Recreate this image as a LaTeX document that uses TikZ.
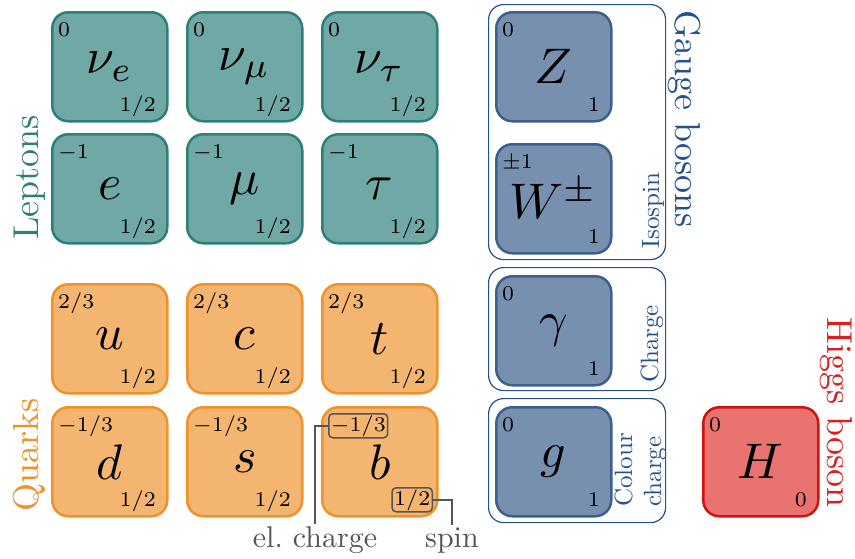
\documentclass[tikz,border=0pt]{standalone}
\usepackage{graphicx}
\definecolor{lepF}{HTML}{6FA8A5}
\definecolor{lepD}{HTML}{2E7F7A}
\definecolor{quaF}{HTML}{F3B56F}
\definecolor{quaD}{HTML}{EF922B}
\definecolor{gauF}{HTML}{7890B0}
\definecolor{gauD}{HTML}{3E5F8E}
\definecolor{gauT}{HTML}{24508C}
\definecolor{higF}{HTML}{E8736F}
\definecolor{higD}{HTML}{D01212}
\definecolor{higT}{HTML}{D82020}
\definecolor{annG}{HTML}{555555}
\tikzset{
  pbase/.style={rounded corners=16pt, line width=2.5pt, minimum width=115pt,
    minimum height=109pt, anchor=north west, inner sep=0pt},
  lep/.style={pbase, fill=lepF, draw=lepD},
  qua/.style={pbase, fill=quaF, draw=quaD},
  gau/.style={pbase, fill=gauF, draw=gauD},
  hig/.style={pbase, fill=higF, draw=higD},
  sym/.style={inner sep=0pt},
  smalltxt/.style={inner sep=0pt},
  gframe/.style={draw=gauT, line width=1.2pt, rounded corners=15pt, anchor=north west, inner sep=0pt},
  grp/.style={inner sep=0pt, anchor=base west},
  subl/.style={inner sep=0pt, text=gauT, anchor=base west, rotate=90},
  ann/.style={draw=annG, line width=1.5pt, rounded corners=4pt, inner xsep=2pt, inner ysep=1.5pt},
  annline/.style={draw=annG, line width=1.5pt},
  anntxt/.style={text=annG, inner sep=2pt}
}
\newcommand\symb[1]{\scalebox{5}{$#1$}}
\newcommand\smt[1]{\scalebox{3}{\scriptsize$#1$}}
\newcommand\grptxt[1]{\scalebox{3.6}{#1}}
\newcommand\subtxt[1]{\scalebox{2.5}{#1}}
\newcommand\anntext[1]{\scalebox{3}{#1}}
\newcommand\pbox[7]{%
  \node[#4] (#1) at (#2,#3) {};
  \node[sym] (#1s) at (#1.center) {\symb{#5}};
  \node[smalltxt, anchor=base west] (#1c) at ({#2+7},{#3+25}) {\smt{#6}};
  \node[smalltxt, anchor=base east] (#1p) at ({#2+105},{#3+100}) {\smt{#7}};
}
\begin{document}
\begin{tikzpicture}[x=1pt,y=-1pt]
\useasboundingbox (0,0) rectangle (855,558);
% frames
\node[gframe, minimum width=177pt, minimum height=255pt] (fr1) at (488,4) {};
\node[gframe, minimum width=177pt, minimum height=123pt] (fr2) at (488,267) {};
\node[gframe, minimum width=177pt, minimum height=124pt] (fr3) at (488,398) {};
% leptons
\pbox{ne}{51}{11}{lep}{\nu_e}{0}{1/2}
\pbox{nm}{186}{11}{lep}{\nu_\mu}{0}{1/2}
\pbox{nt}{321}{11}{lep}{\nu_\tau}{0}{1/2}
\pbox{el}{51}{133}{lep}{e}{-1}{1/2}
\pbox{mu}{186}{133}{lep}{\mu}{-1}{1/2}
\pbox{ta}{321}{133}{lep}{\tau}{-1}{1/2}
% quarks
\pbox{qu}{51}{283}{qua}{u}{2/3}{1/2}
\pbox{qc}{186}{283}{qua}{c}{2/3}{1/2}
\pbox{qt}{321}{283}{qua}{t}{2/3}{1/2}
\pbox{qd}{51}{406}{qua}{d}{-1/3}{1/2}
\pbox{qs}{186}{406}{qua}{s}{-1/3}{1/2}
% b quark with annotations
\node[qua] (qb) at (321,406) {};
\node[sym] (qbs) at (qb.center) {\symb{b}};
\node[smalltxt, ann, anchor=base west] (qbc) at (328,431) {\smt{-1/3}};
\node[smalltxt, ann, anchor=base east] (qbp) at (433,505) {\smt{1/2}};
\node[anntxt, anchor=base] (elc) at (315,547) {\anntext{el.\ charge}};
\node[anntxt, anchor=base] (spn) at (452,547) {\anntext{spin}};
\draw[annline] (qbc.west) -| (elc.north);
\draw[annline] (qbp.east) -| (spn.north);
% gauge bosons
\pbox{zb}{495}{11}{gau}{Z}{0}{1}
\pbox{wb}{495}{143}{gau}{W^{\pm}}{\pm1}{1}
\pbox{ga}{495}{275}{gau}{\gamma}{0}{1}
\pbox{gl}{495}{406}{gau}{g}{0}{1}
% higgs
\pbox{hb}{702}{406}{hig}{H}{0}{0}
% group labels
\node[grp, text=lepD, rotate=90] (lepl) at (38,240) {\grptxt{Leptons}};
\node[grp, text=quaD, rotate=90] (qual) at (38,512) {\grptxt{Quarks}};
\node[grp, text=gauT, rotate=-90] (gaul) at (675,10) {\grptxt{Gauge bosons}};
\node[grp, text=higT, rotate=-90] (higl) at (827,317) {\grptxt{Higgs boson}};
% sub labels
\node[subl] (iso) at (659,249) {\subtxt{Isospin}};
\node[subl] (chg) at (658,383) {\subtxt{Charge}};
\node[subl] (col1) at (632,507) {\subtxt{Colour}};
\node[subl] (col2) at (661,507) {\subtxt{charge}};
\end{tikzpicture}
\end{document}
